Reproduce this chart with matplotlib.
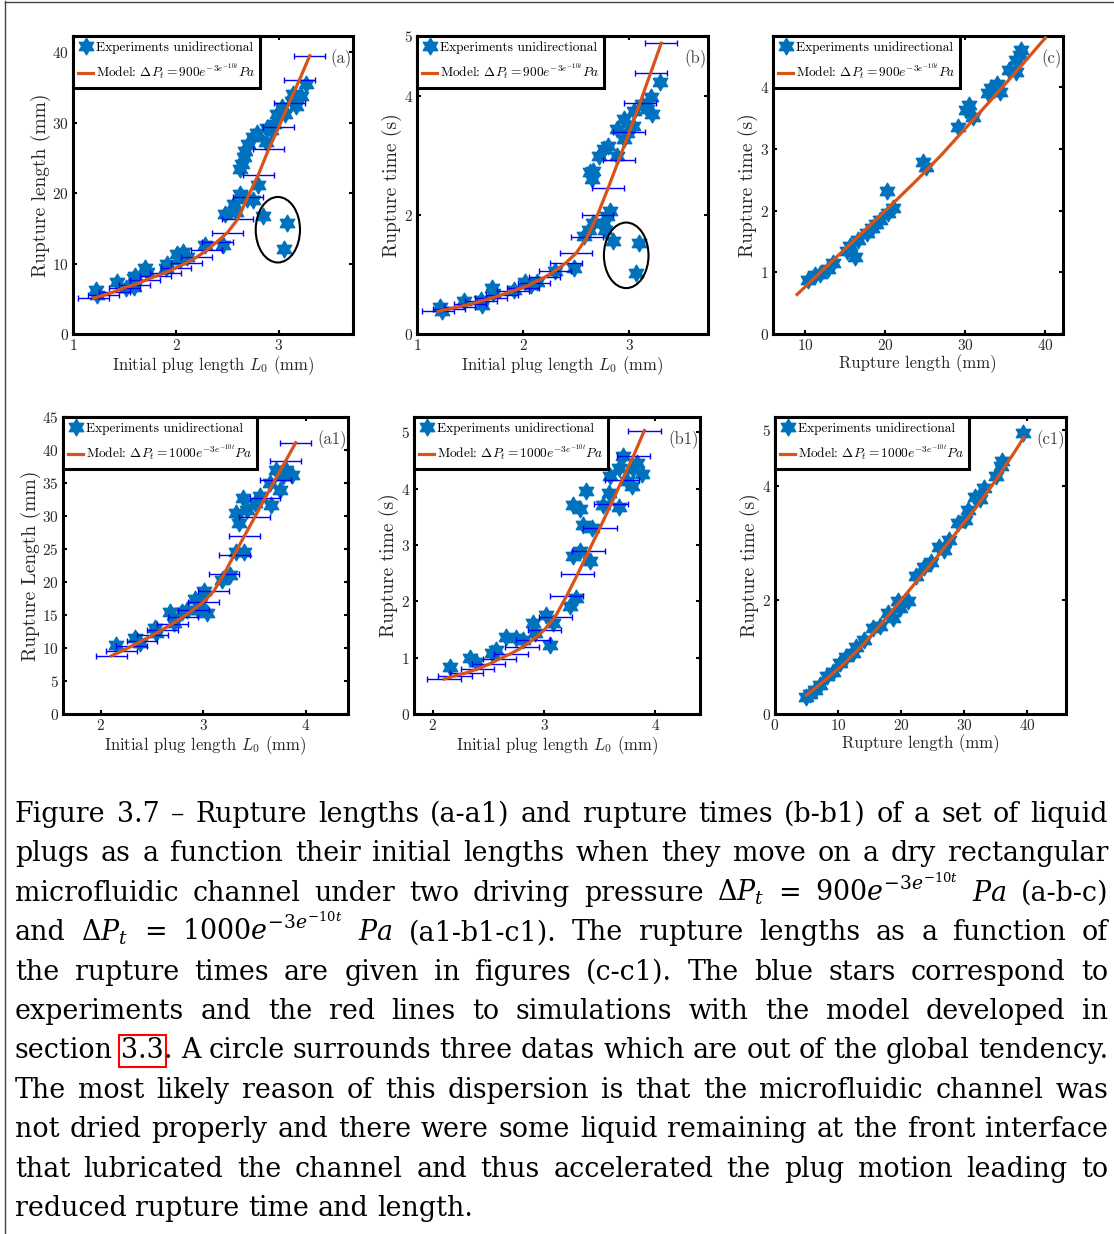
import numpy as np
import matplotlib
matplotlib.use('Agg')
import matplotlib.pyplot as plt
from matplotlib.path import Path
from matplotlib.patches import Ellipse
from matplotlib.lines import Line2D

plt.rcParams['font.family'] = 'cmr10'
plt.rcParams['mathtext.fontset'] = 'cm'
plt.rcParams['axes.formatter.use_mathtext'] = True

# ---------------- data ----------------
# (a) rupture length vs initial plug length, 900 Pa
a_x = [1.22, 1.23, 1.43, 1.51, 1.59, 1.59, 1.60, 1.70, 1.72, 1.91, 1.90, 2.01, 2.07, 2.11, 2.04,
       2.28, 2.46, 2.48, 2.56, 2.58, 2.62, 2.69, 2.75, 2.80, 2.85, 3.08, 3.05, 2.64, 2.66, 2.67,
       2.70, 2.75, 2.79, 2.87, 2.88, 2.95, 2.98, 3.03, 3.06, 3.13, 3.17, 3.21, 3.26, 2.62, 2.92, 3.14]
a_y = [6.2, 5.5, 7.4, 6.5, 7.9, 6.7, 8.3, 9.4, 8.8, 10.0, 9.3, 11.3, 11.7, 10.9, 10.5,
       12.6, 12.6, 17.1, 18.5, 17.3, 19.9, 19.2, 19.0, 21.1, 16.8, 15.7, 12.1, 24.2, 25.1, 26.0,
       27.0, 27.9, 28.6, 27.2, 29.3, 29.8, 31.2, 32.2, 31.2, 33.1, 32.4, 33.8, 35.5, 23.4, 28.9, 34.1]
ab_model_x = [1.2, 1.3, 1.4, 1.5, 1.6, 1.7, 1.8, 1.9, 2.0, 2.1, 2.2, 2.3, 2.4, 2.5, 2.6, 2.7,
              2.8, 2.9, 3.0, 3.1, 3.2, 3.3]
a_model_y = [5.1, 5.5, 6.0, 6.6, 7.0, 7.6, 8.2, 8.7, 9.4, 10.1, 10.9, 11.9, 13.1, 14.4, 16.3, 19.5,
             22.6, 26.2, 29.4, 32.8, 36.1, 39.5]

# (b) rupture time vs initial plug length, 900 Pa
b_x = [1.22, 1.24, 1.44, 1.60, 1.61, 1.71, 1.72, 1.91, 2.02, 2.07, 2.13, 2.30, 2.48, 2.57, 2.62,
       2.66, 2.76, 2.79, 2.82, 2.77, 2.85, 3.09, 3.06, 2.65, 2.66, 2.71, 2.76, 2.80, 2.88, 2.88,
       2.95, 2.98, 3.03, 3.04, 3.12, 3.17, 3.20, 3.21, 3.29, 2.95, 2.63]
b_y = [0.46, 0.38, 0.55, 0.57, 0.49, 0.77, 0.69, 0.74, 0.88, 0.83, 0.88, 1.05, 1.11, 1.64, 1.75,
       1.87, 1.87, 1.98, 2.06, 1.75, 1.56, 1.53, 1.02, 2.60, 2.74, 2.99, 3.10, 3.16, 2.99, 3.44,
       3.61, 3.38, 3.49, 3.75, 3.86, 3.78, 3.97, 3.69, 4.22, 3.27, 2.71]
b_model_y = [0.38, 0.42, 0.46, 0.50, 0.55, 0.60, 0.66, 0.72, 0.78, 0.86, 0.95, 1.06, 1.19, 1.36,
             1.62, 2.00, 2.45, 2.92, 3.39, 3.88, 4.38, 4.88]

# (c) rupture time vs rupture length, 900 Pa
c_x = [10.4, 11.2, 11.9, 12.9, 13.5, 15.2, 15.6, 16.2, 16.6, 17.7, 18.3, 18.9, 19.3, 20.2, 20.4,
       21.0, 24.7, 25.1, 29.1, 30.1, 30.5, 31.0, 32.8, 33.2, 33.9, 34.3, 35.5, 36.3, 36.8, 37.0, 36.3]
c_y = [0.88, 0.96, 0.98, 1.06, 1.15, 1.34, 1.42, 1.25, 1.52, 1.63, 1.71, 1.79, 1.85, 2.31, 1.96,
       2.04, 2.79, 2.71, 3.36, 3.63, 3.71, 3.52, 3.90, 3.98, 4.06, 3.93, 4.28, 4.44, 4.52, 4.61, 4.25]
c_model_x = [9, 12, 15, 18, 21, 24, 27, 30, 33, 36, 39, 40]
c_model_y = [0.64, 1.01, 1.38, 1.75, 2.12, 2.50, 2.90, 3.33, 3.76, 4.20, 4.65, 4.80]

# (a1) rupture length vs initial plug length, 1000 Pa
a1_x = [2.15, 2.33, 2.38, 2.53, 2.54, 2.67, 2.71, 2.79, 2.84, 2.92, 2.97, 3.01, 3.03, 2.95, 3.18,
        3.26, 3.32, 3.40, 3.32, 3.39, 3.35, 3.42, 3.50, 3.55, 3.65, 3.66, 3.71, 3.75, 3.78, 3.86, 3.81]
a1_y = [10.5, 11.5, 10.7, 13.0, 12.2, 15.5, 13.8, 15.5, 15.8, 17.5, 16.8, 18.6, 15.3, 15.8, 20.3,
        21.1, 24.6, 24.6, 30.4, 32.7, 28.9, 30.9, 32.0, 33.0, 35.0, 31.7, 37.0, 34.0, 36.0, 36.2, 37.0]
ab1_model_x = [2.1, 2.2, 2.3, 2.4, 2.5, 2.6, 2.7, 2.8, 2.9, 3.0, 3.1, 3.2, 3.3, 3.4, 3.5, 3.6,
               3.7, 3.8, 3.9]
a1_model_y = [8.8, 9.5, 10.3, 11.1, 11.9, 12.8, 13.7, 14.7, 15.8, 17.0, 18.6, 21.2, 24.1, 27.0,
              29.8, 32.7, 35.5, 38.3, 41.1]

# (b1) rupture time vs initial plug length, 1000 Pa
b1_x = [2.15, 2.33, 2.39, 2.53, 2.57, 2.66, 2.75, 2.81, 2.90, 2.92, 3.02, 3.05, 3.08, 3.23, 3.29,
        3.26, 3.32, 3.41, 3.26, 3.32, 3.38, 3.35, 3.43, 3.53, 3.58, 3.59, 3.67, 3.71, 3.74, 3.67,
        3.80, 3.83, 3.88, 3.79]
b1_y = [0.84, 0.99, 0.93, 1.08, 1.14, 1.37, 1.34, 1.32, 1.61, 1.43, 1.76, 1.23, 1.61, 1.91, 2.06,
        2.80, 2.89, 2.71, 3.71, 3.63, 3.95, 3.36, 3.30, 3.71, 3.92, 4.22, 4.37, 4.57, 4.13, 3.68,
        4.34, 4.45, 4.25, 4.04]
b1_model_y = [0.62, 0.68, 0.73, 0.80, 0.88, 0.98, 1.07, 1.18, 1.32, 1.49, 1.73, 2.09, 2.48, 2.89,
              3.30, 3.72, 4.15, 4.57, 5.03]

# (c1) rupture time vs rupture length, 1000 Pa
c1_x = [5.0, 5.5, 6.3, 7.1, 8.2, 9.2, 10.3, 11.3, 12.4, 12.9, 14.2, 15.6, 16.6, 17.9, 18.7, 19.5,
        19.8, 21.1, 22.4, 23.7, 24.8, 26.1, 26.9, 27.7, 29.0, 30.1, 30.6, 31.7, 32.5, 33.2, 35.1,
        35.9, 36.1, 39.4]
c1_y = [0.30, 0.36, 0.42, 0.51, 0.66, 0.74, 0.89, 1.01, 1.07, 1.18, 1.30, 1.51, 1.54, 1.77, 1.68,
        1.98, 1.86, 1.98, 2.42, 2.59, 2.68, 2.94, 2.89, 3.06, 3.35, 3.41, 3.59, 3.82, 3.77, 3.97,
        4.18, 4.35, 4.44, 4.94]
c1_model_x = [5, 8, 11, 14, 17, 20, 23, 26, 29, 32, 35, 38, 39.5]
c1_model_y = [0.33, 0.60, 0.89, 1.22, 1.60, 2.00, 2.40, 2.80, 3.22, 3.64, 4.10, 4.60, 4.86]

caption = [
    "Figure 3.7 – Rupture lengths (a-a1) and rupture times (b-b1) of a set of liquid",
    "plugs as a function their initial lengths when they move on a dry rectangular",
    r"microfluidic channel under two driving pressure $\Delta{P}_t$ = $900e^{-3e^{-10t}}$ $Pa$ (a-b-c)",
    r"and $\Delta{P}_t$ = $1000e^{-3e^{-10t}}$ $Pa$ (a1-b1-c1).  The rupture lengths as a function of",
    "the rupture times are given in figures (c-c1).  The blue stars correspond to",
    "experiments and the red lines to simulations with the model developed in",
    "section [3.3]. A circle surrounds three datas which are out of the global tendency.",
    "The most likely reason of this dispersion is that the microfluidic channel was",
    "not dried properly and there were some liquid remaining at the front interface",
    "that lubricated the channel and thus accelerated the plug motion leading to",
    "reduced rupture time and length.",
]

# ---------------- drawing ----------------
W, H = 1114, 1234
fig = plt.figure(figsize=(W / 100, H / 100), dpi=100)

star = Path.unit_regular_star(6, innerCircle=0.577)
blue = '#0072BD'
red = '#D95319'


def px_rect(x0, y0, x1, y1):
    return [x0 / W, 1 - y1 / H, (x1 - x0) / W, (y1 - y0) / H]


def panel(rect, sx, sy, mx, my, err, xlim, ylim, xticks, yticks, xlabel, ylabel, tag, p):
    ax = fig.add_axes(rect)
    ax.plot(sx, sy, ls='none', marker=star, ms=12, color=blue, mec=blue,
            zorder=1, label='Experiments unidirectional')
    if err:
        ax.errorbar(mx, my, xerr=0.15, fmt='none', ecolor='#0000ff', elinewidth=1,
                    capsize=2, capthick=1, zorder=2)
    ax.plot(mx, my, color=red, lw=2.3, zorder=3,
            label=r'Model: $\Delta P_t = %se^{-3e^{-10t}}Pa$' % p)
    ax.set_xlim(xlim)
    ax.set_ylim(ylim)
    ax.set_xticks(xticks)
    ax.set_yticks(yticks)
    ax.tick_params(direction='in', length=3, width=1.5, top=True, right=True,
                   labelsize=11, pad=3, labelcolor='#262626')
    for s in ax.spines.values():
        s.set_linewidth(2.2)
    ax.set_xlabel(xlabel, fontsize=12, color='#262626', labelpad=1)
    ax.set_ylabel(ylabel, fontsize=14, color='#262626', labelpad=1)
    leg = ax.legend(loc='upper left', bbox_to_anchor=(0, 1), borderaxespad=0, fancybox=False,
                    edgecolor='black', framealpha=1, fontsize=9.6, handlelength=1.1,
                    handletextpad=0.2, borderpad=0.4, labelspacing=0.6, numpoints=1)
    leg.get_frame().set_linewidth(2.2)
    ax.text(0.995, 0.955, tag, transform=ax.transAxes, ha='right', va='top',
            fontsize=12, color='#404040')
    return ax


L0 = r'Initial plug length $L_0$ (mm)'

ax = panel(px_rect(73, 36, 353, 334), a_x, a_y, ab_model_x, a_model_y, True,
           (1, 3.72), (0, 42.3), [1, 2, 3], [0, 10, 20, 30, 40], L0,
           'Rupture length (mm)', '(a)', '900')
ax.add_patch(Ellipse((2.99, 14.8), 0.43, 9.3, fill=False, ec='black', lw=1.5, zorder=4))

ax = panel(px_rect(417, 36, 708, 334), b_x, b_y, ab_model_x, b_model_y, True,
           (1, 3.74), (0, 5), [1, 2, 3], [0, 2, 4, 5], L0,
           'Rupture time (s)', '(b)', '900')
ax.add_patch(Ellipse((2.97, 1.32), 0.42, 1.10, fill=False, ec='black', lw=1.5, zorder=4))

panel(px_rect(773, 36, 1063, 334), c_x, c_y, c_model_x, c_model_y, False,
      (6, 42.2), (0, 4.83), [10, 20, 30, 40], [0, 1, 2, 3, 4], 'Rupture length (mm)',
      'Rupture time (s)', '(c)', '900')

panel(px_rect(63, 417, 348, 714), a1_x, a1_y, ab1_model_x, a1_model_y, True,
      (1.63, 4.41), (0, 45), [2, 3, 4], [0, 5, 10, 15, 20, 25, 30, 35, 40, 45], L0,
      'Rupture Length (mm)', '(a1)', '1000')

panel(px_rect(414, 417, 700, 714), b1_x, b1_y, ab1_model_x, b1_model_y, True,
      (1.83, 4.4), (0, 5.27), [2, 3, 4], [0, 1, 2, 3, 4, 5], L0,
      'Rupture time (s)', '(b1)', '1000')

panel(px_rect(775, 417, 1066, 714), c1_x, c1_y, c1_model_x, c1_model_y, False,
      (0, 46.2), (0, 5.22), [0, 10, 20, 30, 40], [0, 2, 4, 5], 'Rupture length (mm)',
      'Rupture time (s)', '(c1)', '1000')

# page frame lines
fig.add_artist(Line2D([5 / W, 5 / W], [0, 1 - 1 / H], color='#444444', lw=1))
fig.add_artist(Line2D([5 / W, 1], [1 - 1.5 / H, 1 - 1.5 / H], color='#444444', lw=1))

# ---------------- justified caption ----------------
renderer = fig.canvas.get_renderer()
cap_font = 'DejaVu Serif'
cap_math = 'dejavuserif'
left, right = 15, 1108
first_base, line_step = 822, 39.4


def segments(word):
    if word.startswith('[') and ']' in word:
        i = word.index(']')
        out = [(word[1:i], True)]
        if word[i + 1:]:
            out.append((word[i + 1:], False))
        return out
    return [(word, False)]


def make_text(s, fs, boxed):
    t = fig.text(0, 0, s, fontsize=fs, family=cap_font, math_fontfamily=cap_math,
                 va='baseline', ha='left', color='black')
    if boxed:
        t.set_bbox(dict(boxstyle='square,pad=0.08', fc='none', ec='red', lw=1.5))
    return t


fs = 22
probe = fig.text(0, 0, 'a a', fontsize=fs, family=cap_font)
probe2 = fig.text(0, 0, 'aa', fontsize=fs, family=cap_font)
space = probe.get_window_extent(renderer).width - probe2.get_window_extent(renderer).width
probe.remove()
probe2.remove()

# measure natural widths to pick a size that fits
nat = []
for line in caption:
    ws = 0
    words = line.split()
    for w in words:
        for s, b in segments(w):
            t = make_text(s, fs, False)
            ws += t.get_window_extent(renderer).width
            t.remove()
    nat.append(ws + space * (len(words) - 1))
scale = min(1.0, (right - left) / max(nat))
fs = fs * scale
space = space * scale

for i, line in enumerate(caption):
    words = line.split()
    items = []
    for w in words:
        segs = [make_text(s, fs, b) for s, b in segments(w)]
        items.append(segs)
    widths = [sum(t.get_window_extent(renderer).width for t in segs) for segs in items]
    if i < len(caption) - 1 and len(words) > 1:
        gap = (right - left - sum(widths)) / (len(words) - 1)
    else:
        gap = space
    x = left
    y = 1 - (first_base + i * line_step) / H
    for segs, wd in zip(items, widths):
        xx = x
        for t in segs:
            t.set_position((xx / W, y))
            xx += t.get_window_extent(renderer).width
        x += wd + gap

fig.savefig('out.png', dpi=100)
